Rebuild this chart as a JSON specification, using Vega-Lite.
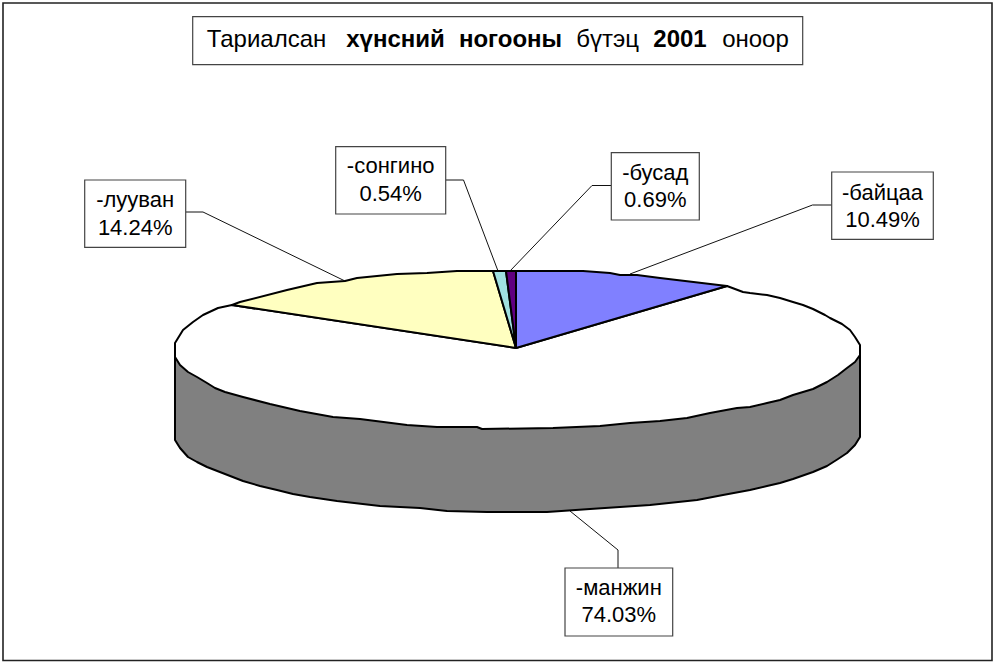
{"$schema":"https://vega.github.io/schema/vega-lite/v6.json","width":995,"height":663,"padding":0,"autosize":{"type":"none"},"background":"white","config":{"view":{"stroke":null}},
"datasets":{
"frame":[{"x":3,"x2":992,"y":3,"y2":660.5}],
"titleBox":[{"x":192.7,"x2":802.7,"y":16.7,"y2":64.7}],
"titleRegular":[{"word":"Тариалсан","x":266.5,"y":47},{"word":"бүтэц","x":607.5,"y":47},{"word":"оноор","x":755.5,"y":47}],
"titleBold":[{"word":"хүнсний","x":395.5,"y":47},{"word":"ногооны","x":510.5,"y":47},{"word":"2001","x":680,"y":47}],
"labels":[
{"name":"-лууван","pct":"14.24%","share":14.24,"x":84.7,"x2":185.7,"y":180,"y2":247.3,"cx":135.2,"yName":207,"yPct":235},
{"name":"-сонгино","pct":"0.54%","share":0.54,"x":335.7,"x2":445.7,"y":146.7,"y2":214,"cx":390.7,"yName":173,"yPct":201},
{"name":"-бусад","pct":"0.69%","share":0.69,"x":611.3,"x2":699.3,"y":152.7,"y2":220,"cx":655.3,"yName":180,"yPct":207},
{"name":"-байцаа","pct":"10.49%","share":10.49,"x":831.7,"x2":933.3,"y":172,"y2":239.3,"cx":882.5,"yName":200,"yPct":227},
{"name":"-манжин","pct":"74.03%","share":74.03,"x":565,"x2":672.7,"y":568,"y2":636,"cx":618.8,"yName":595,"yPct":622}],
"leaders":[
{"s":"лууван","i":0,"x":186,"y":212},{"s":"лууван","i":1,"x":203,"y":212},{"s":"лууван","i":2,"x":345,"y":281},
{"s":"сонгино","i":0,"x":446,"y":180},{"s":"сонгино","i":1,"x":463.5,"y":180},{"s":"сонгино","i":2,"x":498,"y":271},
{"s":"бусад","i":0,"x":611,"y":185.5},{"s":"бусад","i":1,"x":592,"y":185.5},{"s":"бусад","i":2,"x":510,"y":271},
{"s":"байцаа","i":0,"x":832,"y":205},{"s":"байцаа","i":1,"x":812.5,"y":205},{"s":"байцаа","i":2,"x":630,"y":274},
{"s":"манжин","i":0,"x":618,"y":568},{"s":"манжин","i":1,"x":618,"y":550},{"s":"манжин","i":2,"x":570,"y":511}],
"wall":[
{"i":0,"x":175,"y":357},{"i":1,"x":175,"y":440},{"i":2,"x":180,"y":448},{"i":3,"x":188,"y":457},{"i":4,"x":197,"y":462},{"i":5,"x":207,"y":467},{"i":6,"x":225,"y":474},{"i":7,"x":243,"y":481},{"i":8,"x":260,"y":486},{"i":9,"x":277,"y":490},{"i":10,"x":293,"y":494},{"i":11,"x":310,"y":497},{"i":12,"x":337,"y":501},{"i":13,"x":380,"y":506},{"i":14,"x":420,"y":508},{"i":15,"x":447,"y":511},{"i":16,"x":487,"y":512},{"i":17,"x":547,"y":512},{"i":18,"x":590,"y":509},{"i":19,"x":650,"y":505},{"i":20,"x":697,"y":500},{"i":21,"x":723,"y":495},{"i":22,"x":750,"y":490},{"i":23,"x":767,"y":486},{"i":24,"x":780,"y":483},{"i":25,"x":793,"y":479},{"i":26,"x":813,"y":472},{"i":27,"x":827,"y":466},{"i":28,"x":838,"y":459},{"i":29,"x":847,"y":453},{"i":30,"x":855,"y":445},{"i":31,"x":860,"y":437},{"i":32,"x":860,"y":355},{"i":33,"x":175,"y":357}],
"slices":[
{"s":"манжин","i":0,"x":516,"y":348},{"s":"манжин","i":1,"x":727,"y":286},{"s":"манжин","i":2,"x":743,"y":292},{"s":"манжин","i":3,"x":750,"y":293},{"s":"манжин","i":4,"x":767,"y":295},{"s":"манжин","i":5,"x":780,"y":298},{"s":"манжин","i":6,"x":793,"y":302},{"s":"манжин","i":7,"x":803,"y":305},{"s":"манжин","i":8,"x":813,"y":309},{"s":"манжин","i":9,"x":825,"y":315},{"s":"манжин","i":10,"x":830,"y":318},{"s":"манжин","i":11,"x":842,"y":324},{"s":"манжин","i":12,"x":850,"y":330},{"s":"манжин","i":13,"x":855,"y":337},{"s":"манжин","i":14,"x":860,"y":345},{"s":"манжин","i":15,"x":860,"y":355},{"s":"манжин","i":16,"x":855,"y":362},{"s":"манжин","i":17,"x":847,"y":368},{"s":"манжин","i":18,"x":838,"y":375},{"s":"манжин","i":19,"x":827,"y":382},{"s":"манжин","i":20,"x":813,"y":389},{"s":"манжин","i":21,"x":793,"y":395},{"s":"манжин","i":22,"x":780,"y":400},{"s":"манжин","i":23,"x":767,"y":403},{"s":"манжин","i":24,"x":750,"y":407},{"s":"манжин","i":25,"x":737,"y":408},{"s":"манжин","i":26,"x":710,"y":413},{"s":"манжин","i":27,"x":687,"y":418},{"s":"манжин","i":28,"x":660,"y":421},{"s":"манжин","i":29,"x":630,"y":423},{"s":"манжин","i":30,"x":600,"y":426},{"s":"манжин","i":31,"x":553,"y":428},{"s":"манжин","i":32,"x":482,"y":429},{"s":"манжин","i":33,"x":477,"y":427},{"s":"манжин","i":34,"x":437,"y":427},{"s":"манжин","i":35,"x":407,"y":425},{"s":"манжин","i":36,"x":360,"y":419},{"s":"манжин","i":37,"x":333,"y":417},{"s":"манжин","i":38,"x":300,"y":411},{"s":"манжин","i":39,"x":270,"y":404},{"s":"манжин","i":40,"x":243,"y":397},{"s":"манжин","i":41,"x":225,"y":392},{"s":"манжин","i":42,"x":215,"y":388},{"s":"манжин","i":43,"x":207,"y":383},{"s":"манжин","i":44,"x":197,"y":377},{"s":"манжин","i":45,"x":188,"y":372},{"s":"манжин","i":46,"x":180,"y":365},{"s":"манжин","i":47,"x":175,"y":357},{"s":"манжин","i":48,"x":175,"y":343},{"s":"манжин","i":49,"x":183,"y":330},{"s":"манжин","i":50,"x":193,"y":322},{"s":"манжин","i":51,"x":203,"y":315},{"s":"манжин","i":52,"x":218,"y":308},{"s":"манжин","i":53,"x":232,"y":305},{"s":"манжин","i":54,"x":516,"y":348},
{"s":"байцаа","i":0,"x":516,"y":348},{"s":"байцаа","i":1,"x":516,"y":271},{"s":"байцаа","i":2,"x":583,"y":271},{"s":"байцаа","i":3,"x":610,"y":273},{"s":"байцаа","i":4,"x":620,"y":275},{"s":"байцаа","i":5,"x":637,"y":275},{"s":"байцаа","i":6,"x":660,"y":278},{"s":"байцаа","i":7,"x":727,"y":286},{"s":"байцаа","i":8,"x":516,"y":348},
{"s":"лууван","i":0,"x":516,"y":348},{"s":"лууван","i":1,"x":232,"y":305},{"s":"лууван","i":2,"x":240,"y":302},{"s":"лууван","i":3,"x":287,"y":290},{"s":"лууван","i":4,"x":317,"y":283},{"s":"лууван","i":5,"x":345,"y":281},{"s":"лууван","i":6,"x":357,"y":278},{"s":"лууван","i":7,"x":397,"y":274},{"s":"лууван","i":8,"x":427,"y":273},{"s":"лууван","i":9,"x":457,"y":271},{"s":"лууван","i":10,"x":493,"y":271},{"s":"лууван","i":11,"x":516,"y":348},
{"s":"сонгино","i":0,"x":516,"y":348},{"s":"сонгино","i":1,"x":493,"y":271},{"s":"сонгино","i":2,"x":506,"y":271},{"s":"сонгино","i":3,"x":516,"y":348},
{"s":"бусад","i":0,"x":516,"y":348},{"s":"бусад","i":1,"x":506,"y":271},{"s":"бусад","i":2,"x":516,"y":271},{"s":"бусад","i":3,"x":516,"y":348}]
},
"encoding":{"x":{"field":"x","type":"quantitative","axis":null,"scale":{"domain":[0,995],"nice":false,"zero":false}},"y":{"field":"y","type":"quantitative","axis":null,"scale":{"domain":[663,0],"nice":false,"zero":false}}},
"layer":[
{"data":{"name":"frame"},"mark":{"type":"rect","fill":"white","stroke":"#222222","strokeWidth":1.6},"encoding":{"x2":{"field":"x2"},"y2":{"field":"y2"}}},
{"data":{"name":"leaders"},"mark":{"type":"line","stroke":"#111111","strokeWidth":1},"encoding":{"detail":{"field":"s"},"order":{"field":"i","type":"quantitative"}}},
{"data":{"name":"wall"},"mark":{"type":"line","fill":"#808080","stroke":"#000000","strokeWidth":2,"strokeJoin":"round"},"encoding":{"order":{"field":"i","type":"quantitative"}}},
{"data":{"name":"slices"},"mark":{"type":"line","stroke":"#000000","strokeWidth":2,"strokeJoin":"round"},"encoding":{"detail":{"field":"s"},"order":{"field":"i","type":"quantitative"},"fill":{"field":"s","type":"nominal","legend":null,"sort":null,"scale":{"domain":["манжин","байцаа","лууван","сонгино","бусад"],"range":["#FFFFFF","#8080FF","#FFFFC0","#A0E0E0","#600080"]}}}},
{"data":{"name":"titleBox"},"mark":{"type":"rect","fill":"white","stroke":"#444444","strokeWidth":1.2},"encoding":{"x2":{"field":"x2"},"y2":{"field":"y2"}}},
{"data":{"name":"titleRegular"},"mark":{"type":"text","font":"Liberation Sans","fontSize":24,"align":"center","baseline":"alphabetic","fill":"#000000"},"encoding":{"text":{"field":"word"}}},
{"data":{"name":"titleBold"},"mark":{"type":"text","font":"Liberation Sans","fontSize":24,"fontWeight":"bold","align":"center","baseline":"alphabetic","fill":"#000000"},"encoding":{"text":{"field":"word"}}},
{"data":{"name":"labels"},"mark":{"type":"rect","fill":"white","stroke":"#444444","strokeWidth":1.2},"encoding":{"x2":{"field":"x2"},"y2":{"field":"y2"}}},
{"data":{"name":"labels"},"mark":{"type":"text","font":"Liberation Sans","fontSize":22,"align":"center","baseline":"alphabetic","fill":"#000000"},"encoding":{"x":{"field":"cx","type":"quantitative"},"y":{"field":"yName","type":"quantitative"},"text":{"field":"name"}}},
{"data":{"name":"labels"},"mark":{"type":"text","font":"Liberation Sans","fontSize":22,"align":"center","baseline":"alphabetic","fill":"#000000"},"encoding":{"x":{"field":"cx","type":"quantitative"},"y":{"field":"yPct","type":"quantitative"},"text":{"field":"pct"}}}
]}
